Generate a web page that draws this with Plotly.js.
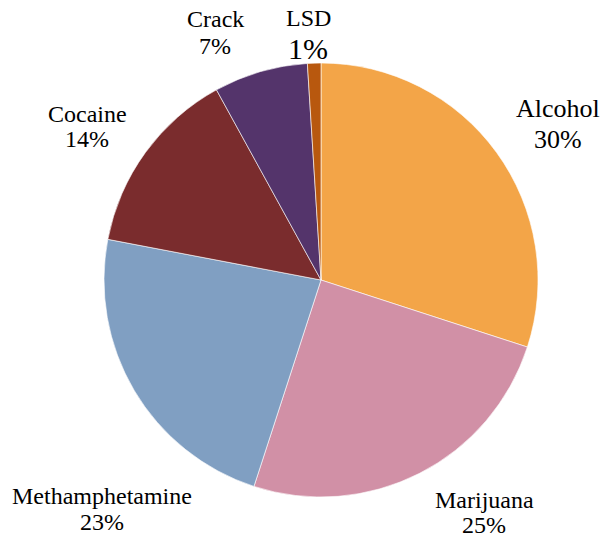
<!DOCTYPE html>
<html>
<head>
<meta charset="utf-8">
<script src="https://cdn.plot.ly/plotly-3.0.1.min.js"></script>
<style>html,body{margin:0;padding:0;background:#fff;}#chart{width:602px;height:537px;}</style>
</head>
<body>
<div id="chart"></div>
<script>
const categories = ["Alcohol", "Marijuana", "Methamphetamine", "Cocaine", "Crack", "LSD"];
const values = [30, 25, 23, 14, 7, 1];
const colors = ["#F3A548", "#D190A6", "#809FC2", "#7A2C2D", "#54346B", "#B8580E"];

// label layout (pixels in the 602x537 picture): [centre x, name line y, percent line y]
const labelPos = [[558, 109, 139], [484, 500, 525], [102, 496, 522], [87, 114, 139], [215, 19, 46], [308, 18, 48]];
const nameSizes = [26, 24, 24, 24, 24, 24];
const pctSizes = [26, 24, 24, 24, 24, 30];

const W = 602, H = 537;
const font = "Liberation Serif";
const total = values.reduce((a, b) => a + b, 0);

const trace = {
  type: "pie",
  labels: categories,
  values: values,
  sort: false,
  direction: "clockwise",
  rotation: 0,
  domain: {x: [104 / W, 538 / W], y: [(H - 497) / H, (H - 63) / H]},
  marker: {colors: colors, line: {color: "#ffffff", width: 0.6}},
  textinfo: "none",
  hoverinfo: "label+percent",
  showlegend: false
};

const annotations = [];
categories.forEach((c, i) => {
  const [px, ny, py] = labelPos[i];
  annotations.push({
    xref: "paper", yref: "paper", x: px / W, y: 1 - ny / H,
    xanchor: "center", yanchor: "middle", showarrow: false,
    text: c, font: {family: font, size: nameSizes[i], color: "#000000"}
  });
  annotations.push({
    xref: "paper", yref: "paper", x: px / W, y: 1 - py / H,
    xanchor: "center", yanchor: "middle", showarrow: false,
    text: Math.round(values[i] / total * 100) + "%",
    font: {family: font, size: pctSizes[i], color: "#000000"}
  });
});

const layout = {
  width: W,
  height: H,
  margin: {l: 0, r: 0, t: 0, b: 0},
  paper_bgcolor: "#ffffff",
  font: {family: font},
  showlegend: false,
  annotations: annotations
};

Plotly.newPlot("chart", [trace], layout, {displayModeBar: false, staticPlot: true});
</script>
</body>
</html>
